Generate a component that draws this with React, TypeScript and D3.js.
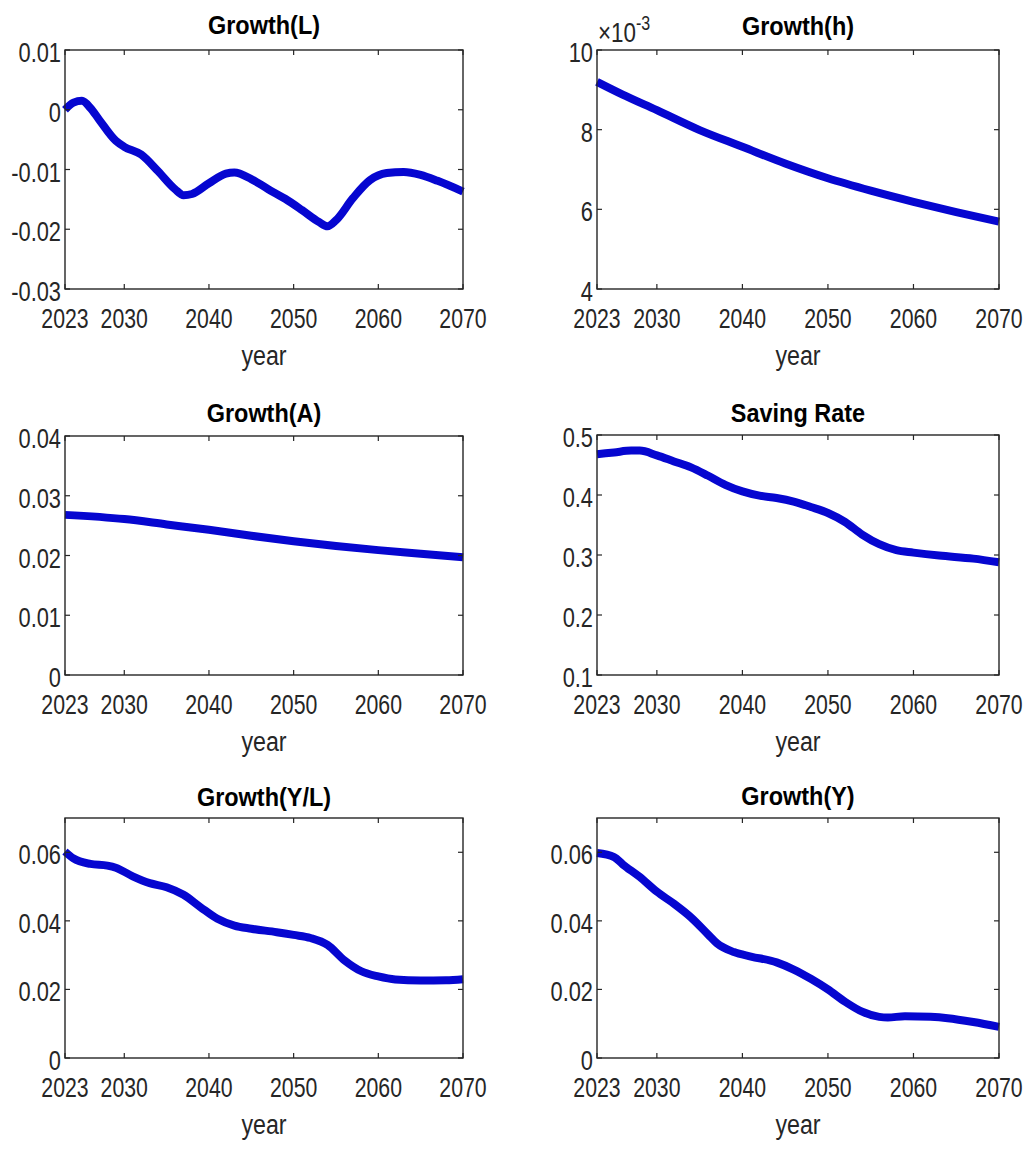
import React from "react";
import * as d3 from "d3";

const xTicks = [2023, 2030, 2040, 2050, 2060, 2070];

const growthLYears = [2023, 2024, 2025, 2026, 2027, 2029, 2030, 2032, 2034, 2036, 2037, 2038, 2040, 2042, 2043, 2045, 2047, 2049, 2051, 2053, 2054, 2055, 2057, 2059, 2061, 2063, 2065, 2067, 2070];
const growthLValues = [0.0, 0.0012, 0.0015, 0.0003, -0.0016, -0.0052, -0.0062, -0.0075, -0.0103, -0.0133, -0.0143, -0.0141, -0.0123, -0.0107, -0.0105, -0.0116, -0.0133, -0.0149, -0.0168, -0.0188, -0.0195, -0.0185, -0.0148, -0.0118, -0.0106, -0.0104, -0.0109, -0.0119, -0.0137];

const growthHYears = [2023, 2026, 2030, 2035, 2040, 2045, 2050, 2055, 2060, 2065, 2070];
const growthHValues = [0.0092, 0.00888, 0.00849, 0.00799, 0.00757, 0.00715, 0.00678, 0.00647, 0.00619, 0.00593, 0.00569];

const growthAYears = [2023, 2030, 2035, 2040, 2045, 2050, 2055, 2060, 2065, 2070];
const growthAValues = [0.0268, 0.0261, 0.0252, 0.0243, 0.0233, 0.0224, 0.0216, 0.0209, 0.0203, 0.0197];

const savingYears = [2023, 2025, 2027, 2028, 2030, 2032, 2034, 2036, 2038, 2040, 2042, 2044, 2046, 2048, 2050, 2052, 2054, 2056, 2058, 2060, 2063, 2067, 2070];
const savingValues = [0.468, 0.471, 0.474, 0.474, 0.466, 0.456, 0.446, 0.432, 0.417, 0.406, 0.399, 0.395, 0.389, 0.38, 0.37, 0.355, 0.334, 0.318, 0.308, 0.304, 0.299, 0.294, 0.288];

const growthYLYears = [2023, 2024, 2026, 2028, 2029, 2031, 2033, 2035, 2037, 2039, 2041, 2043, 2045, 2048, 2050, 2052, 2054, 2056, 2058, 2060, 2062, 2065, 2068, 2070];
const growthYLValues = [0.0602, 0.0582, 0.0566, 0.0561, 0.0555, 0.053, 0.051, 0.0498, 0.0476, 0.044, 0.0406, 0.0386, 0.0377, 0.0367, 0.0359, 0.035, 0.033, 0.0285, 0.0253, 0.0238, 0.0229, 0.0226, 0.0227, 0.023];

const growthYYears = [2023, 2025, 2026, 2028, 2030, 2032, 2034, 2036, 2037, 2039, 2041, 2044, 2046, 2048, 2050, 2052, 2054, 2056, 2057, 2059, 2062, 2064, 2067, 2070];
const growthYValues = [0.0598, 0.0586, 0.0565, 0.0528, 0.0485, 0.045, 0.041, 0.036, 0.0335, 0.0309, 0.0296, 0.0279, 0.0258, 0.0231, 0.02, 0.0164, 0.0135, 0.012, 0.0118, 0.0122, 0.012, 0.0116, 0.0105, 0.0091];

const tickLabelsL = ["-0.03", "-0.02", "-0.01", "0", "0.01"];
const tickValuesL = [-0.03, -0.02, -0.01, 0, 0.01];
const tickLabelsH = ["4", "6", "8", "10"];
const tickValuesH = [0.004, 0.006, 0.008, 0.01];
const tickLabelsA = ["0", "0.01", "0.02", "0.03", "0.04"];
const tickValuesA = [0, 0.01, 0.02, 0.03, 0.04];
const tickLabelsS = ["0.1", "0.2", "0.3", "0.4", "0.5"];
const tickValuesS = [0.1, 0.2, 0.3, 0.4, 0.5];
const tickLabelsY = ["0", "0.02", "0.04", "0.06"];
const tickValuesY = [0, 0.02, 0.04, 0.06];

const FONT = "'Liberation Sans', Arial, Helvetica, sans-serif";
const LINE = "#0606d0";
const AX = "#262626";

type PanelProps = {
  title: string;
  years: number[];
  values: number[];
  domain: [number, number];
  yTicks: number[];
  yLabels: string[];
  box: { x0: number; x1: number; y0: number; y1: number };
  titleGap: number;
  exponent?: boolean;
};

function SText({ x, y, sx, anchor, size, weight, fill, children }: any) {
  return (
    <g transform={`translate(${x},${y}) scale(${sx},1)`}>
      <text
        x={0}
        y={0}
        textAnchor={anchor}
        fontSize={size}
        fontWeight={weight || "normal"}
        fill={fill}
        fontFamily={FONT}
      >
        {children}
      </text>
    </g>
  );
}

function Panel({ title, years, values, domain, yTicks, yLabels, box, titleGap, exponent }: PanelProps) {
  const xs = d3.scaleLinear().domain([2023, 2070]).range([box.x0, box.x1]);
  const ys = d3.scaleLinear().domain(domain).range([box.y1, box.y0]);
  const data = years.map((yr, i) => [yr, values[i]] as [number, number]);
  const line = d3
    .line<[number, number]>()
    .x((d) => xs(d[0]))
    .y((d) => ys(d[1]))
    .curve(d3.curveMonotoneX);
  const tl = 5;
  const cx = (box.x0 + box.x1) / 2;
  return (
    <g>
      <path d={line(data) || ""} fill="none" stroke={LINE} strokeWidth={8} strokeLinejoin="round" />
      <rect
        x={box.x0}
        y={box.y0}
        width={box.x1 - box.x0}
        height={box.y1 - box.y0}
        fill="none"
        stroke={AX}
        strokeWidth={1.4}
      />
      {xTicks.map((t) => (
        <g key={"x" + t}>
          <line x1={xs(t)} x2={xs(t)} y1={box.y1} y2={box.y1 - tl} stroke={AX} strokeWidth={1.2} />
          <line x1={xs(t)} x2={xs(t)} y1={box.y0} y2={box.y0 + tl} stroke={AX} strokeWidth={1.2} />
          <SText x={xs(t)} y={box.y1 + 39} sx={0.76} anchor="middle" size={28} fill={AX}>
            {String(t)}
          </SText>
        </g>
      ))}
      {yTicks.map((t, i) => (
        <g key={"y" + t}>
          <line x1={box.x0} x2={box.x0 + tl} y1={ys(t)} y2={ys(t)} stroke={AX} strokeWidth={1.2} />
          <line x1={box.x1} x2={box.x1 - tl} y1={ys(t)} y2={ys(t)} stroke={AX} strokeWidth={1.2} />
          <SText x={box.x0 - 4} y={ys(t) + 12} sx={0.78} anchor="end" size={28} fill={AX}>
            {yLabels[i]}
          </SText>
        </g>
      ))}
      <SText x={cx} y={box.y0 - titleGap} sx={0.92} anchor="middle" size={25.5} weight="bold" fill="#000">
        {title}
      </SText>
      <SText x={cx} y={box.y1 + 76} sx={0.83} anchor="middle" size={28} fill={AX}>
        year
      </SText>
      {exponent && (
        <g transform={`translate(${box.x0 + 1},${box.y0 - 8}) scale(0.8,1)`}>
          <text x={0} y={0} fontSize={28} fill={AX} fontFamily={FONT}>
            ×10
            <tspan fontSize={20} dy={-12}>-3</tspan>
          </text>
        </g>
      )}
    </g>
  );
}

export default function App() {
  const L = { x0: 65, x1: 463 };
  const R = { x0: 597, x1: 999 };
  return (
    <svg
      width={1030}
      height={1152}
      style={{ position: "absolute", left: 0, top: 0, background: "#fff" }}
    >
      <rect x={0} y={0} width={1030} height={1152} fill="#fff" />
      <Panel
        title="Growth(L)"
        years={growthLYears}
        values={growthLValues}
        domain={[-0.03, 0.01]}
        yTicks={tickValuesL}
        yLabels={tickLabelsL}
        box={{ ...L, y0: 50, y1: 289 }}
        titleGap={16}
      />
      <Panel
        title="Growth(h)"
        years={growthHYears}
        values={growthHValues}
        domain={[0.004, 0.01]}
        yTicks={tickValuesH}
        yLabels={tickLabelsH}
        box={{ ...R, y0: 50, y1: 289 }}
        titleGap={15}
        exponent
      />
      <Panel
        title="Growth(A)"
        years={growthAYears}
        values={growthAValues}
        domain={[0, 0.04]}
        yTicks={tickValuesA}
        yLabels={tickLabelsA}
        box={{ ...L, y0: 436, y1: 675 }}
        titleGap={14}
      />
      <Panel
        title="Saving Rate"
        years={savingYears}
        values={savingValues}
        domain={[0.1, 0.5]}
        yTicks={tickValuesS}
        yLabels={tickLabelsS}
        box={{ ...R, y0: 435, y1: 675 }}
        titleGap={13}
      />
      <Panel
        title="Growth(Y/L)"
        years={growthYLYears}
        values={growthYLValues}
        domain={[0, 0.07]}
        yTicks={tickValuesY}
        yLabels={tickLabelsY}
        box={{ ...L, y0: 818, y1: 1058 }}
        titleGap={12}
      />
      <Panel
        title="Growth(Y)"
        years={growthYYears}
        values={growthYValues}
        domain={[0, 0.07]}
        yTicks={tickValuesY}
        yLabels={tickLabelsY}
        box={{ ...R, y0: 818, y1: 1058 }}
        titleGap={13}
      />
    </svg>
  );
}
